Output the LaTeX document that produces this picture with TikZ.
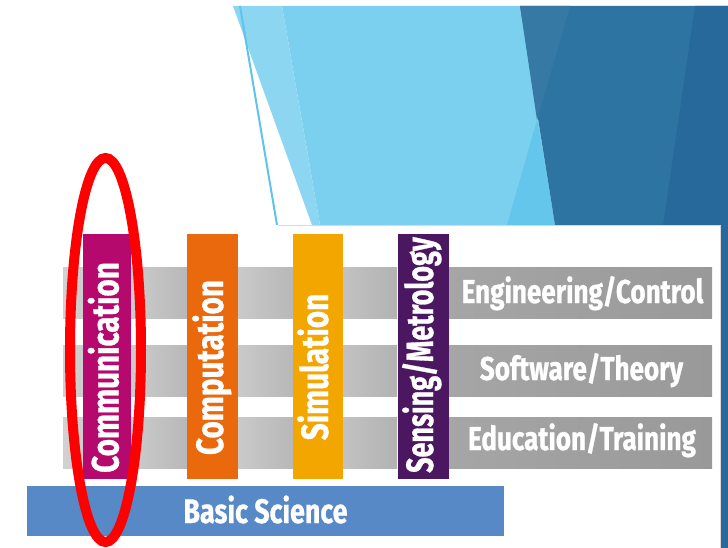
\documentclass[tikz,border=0pt]{standalone}
\usepackage{fontspec}
\newfontfamily\labelfont[FakeStretch=0.79,FakeBold=0.8]{Fira Sans}
\newfontfamily\pillarfont[FakeStretch=0.78,FakeBold=0.8]{Fira Sans}
\newfontfamily\narrowpillarfont[FakeStretch=0.71,FakeBold=0.8]{Fira Sans}
\definecolor{skyA}{HTML}{8DD6F1}
\definecolor{skyB}{HTML}{7BD0EF}
\definecolor{skyC}{HTML}{63C6EA}
\definecolor{skyLine}{HTML}{5EC4EC}
\definecolor{navyA}{HTML}{3679A5}
\definecolor{navyB}{HTML}{2E74A3}
\definecolor{navyC}{HTML}{28699B}
\definecolor{commC}{HTML}{B5096E}
\definecolor{compC}{HTML}{E9690C}
\definecolor{simC}{HTML}{F3A600}
\definecolor{sensC}{HTML}{4B1760}
\definecolor{baseC}{HTML}{5689C6}
\begin{document}
\begin{tikzpicture}[x=1pt,y=-1pt,
  every node/.style={inner sep=0pt,outer sep=0pt},
  pillar/.style={rectangle,draw=none,minimum height=245pt,minimum width=#1},
  pillartext/.style={rotate=90,anchor=base,text=white,font=\pillarfont\bfseries\fontsize{38}{38}\selectfont},
  bandtext/.style={anchor=base,text=white,font=\labelfont\bfseries\fontsize{33}{33}\selectfont}]
\useasboundingbox (0,0) rectangle (728,548);
\fill[white] (0,0) rectangle (728,548);

% backdrop facets
\fill[skyB] (282,6) -- (520,6) -- (555,225) -- (320,225) -- cycle;
\fill[skyA] (233,6) -- (282,6) -- (320,225) -- (312,225) -- cycle;
\fill[skyC] (507,225) -- (537,120) -- (555,225) -- cycle;
\fill[navyB] (520,6) -- (728,6) -- (728,548) -- (555,225) -- cycle;
\fill[navyA] (520,6) -- (570,6) -- (537,120) -- cycle;
\fill[navyC] (695,6) -- (728,6) -- (728,548) -- (616,548) -- cycle;
\draw[skyLine,line width=2pt] (240,6) -- (277,225);

% white panel
\fill[white] (0,225) rectangle (720,548);
\draw[black!15,line width=0.8pt] (278,225) -- (720,225) -- (720,548);

% grey bands, one shaded piece between each pair of pillars
\foreach \ya/\yb in {267/318,345/396,417/468}{
  \shade[left color=black!18,right color=black!20] (63,\ya) rectangle (83,\yb);
  \shade[left color=black!20,right color=black!28] (131,\ya) rectangle (187,\yb);
  \shade[left color=black!21,right color=black!28] (238,\ya) rectangle (293,\yb);
  \shade[left color=black!24,right color=black!30] (343,\ya) rectangle (397,\yb);
  \shade[left color=black!35,right color=black!40] (448,\ya) rectangle (712,\yb);
}

% pillars
\node[pillar=48pt,fill=commC] (comm) at (107,356.5) {};
\node[pillar=51pt,fill=compC] (comp) at (212.5,356.5) {};
\node[pillar=50pt,fill=simC] (sim) at (318,356.5) {};
\node[pillar=51pt,fill=sensC] (sens) at (423,356.5) {};
\node[pillartext] (commT) at (118.5,367.5) {Communication};
\node[pillartext] (compT) at (223,367.5) {Computation};
\node[pillartext] (simT) at (328,367) {Simulation};
\node[pillartext,font=\narrowpillarfont\bfseries\fontsize{38}{38}\selectfont] (sensT) at (433,355) {Sensing/Metrology};

% band labels
\node[bandtext] (eng) at (582.5,303) {Engineering/Control};
\node[bandtext] (soft) at (581.5,380) {Software/Theory};
\node[bandtext] (edu) at (582,450) {Education/Training};

% foundation
\node[rectangle,fill=baseC,minimum width=477pt,minimum height=50pt] (base) at (265.5,511) {};
\node[bandtext,font=\labelfont\bfseries\fontsize{34}{34}\selectfont] (baseT) at (265.5,523) {Basic Science};

% highlight ring
\draw[red,line width=10pt] (105.5,350) ellipse [x radius=35.5,y radius=192];
\end{tikzpicture}
\end{document}
